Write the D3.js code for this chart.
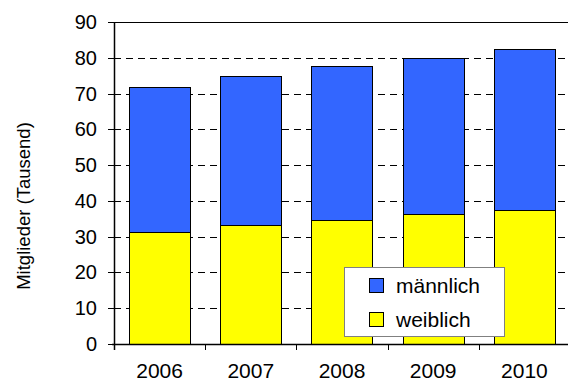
<!DOCTYPE html>
<html>
<head>
<meta charset="utf-8">
<script src="https://cdn.jsdelivr.net/npm/d3@7"></script>
<style>
  body { margin: 0; background: #fff; }
  text { font-family: "Liberation Sans", Arial, sans-serif; fill: #000; }
</style>
</head>
<body>
<div id="chart"></div>
<script>
// data
var years = ["2006", "2007", "2008", "2009", "2010"];
var weiblich = [31.4, 33.2, 34.6, 36.2, 37.4];
var maennlich = [40.5, 41.6, 43.0, 43.8, 45.1];
var yTicks = [0, 10, 20, 30, 40, 50, 60, 70, 80, 90];
var seriesNames = ["männlich", "weiblich"];
var seriesColors = ["#3366ff", "#ffff00"];

const w = 568, h = 381;
// plot area (right edge runs past the window, as in the reference)
var pLeft = 114, pTop = 22, pRight = 570, pBottom = 344;

var svg = d3.select("#chart").append("svg")
    .attr("width", w)
    .attr("height", h);

var x = d3.scaleBand()
    .domain(years)
    .range([pLeft, pRight])
    .paddingInner(0.33)
    .paddingOuter(0.165);

// band boundaries for the category ticks
var step = (pRight - pLeft) / years.length;

var y = d3.scaleLinear()
    .domain([0, 90])
    .range([pBottom, pTop]);

// dashed grid lines
svg.append("g")
    .selectAll("line")
    .data(yTicks.filter(function(d) { return d > 0 && d < 90; }))
    .enter().append("line")
    .attr("x1", pLeft)
    .attr("x2", pRight)
    .attr("y1", function(d) { return Math.round(y(d)) + 0.5; })
    .attr("y2", function(d) { return Math.round(y(d)) + 0.5; })
    .attr("stroke", "#000")
    .attr("stroke-dasharray", "7,5");

// top border of plot area
svg.append("line")
    .attr("x1", pLeft).attr("x2", pRight)
    .attr("y1", Math.round(y(90)) + 0.5).attr("y2", Math.round(y(90)) + 0.5)
    .attr("stroke", "#000");

// stacked data
var rows = years.map(function(yr, i) {
    return { year: yr, weiblich: weiblich[i], maennlich: maennlich[i] };
});
var stack = d3.stack().keys(["weiblich", "maennlich"]);
var layers = stack(rows);
var fills = { weiblich: seriesColors[1], maennlich: seriesColors[0] };

svg.append("g")
    .selectAll("g")
    .data(layers)
    .enter().append("g")
    .attr("fill", function(d) { return fills[d.key]; })
    .selectAll("rect")
    .data(function(d) { return d; })
    .enter().append("rect")
    .attr("x", function(d) { return Math.round(x(d.data.year)) + 0.5; })
    .attr("y", function(d) { return Math.round(y(d[1])) + 0.5; })
    .attr("width", Math.round(x.bandwidth()))
    .attr("height", function(d) { return Math.round(y(d[0])) - Math.round(y(d[1])); })
    .attr("stroke", "#000")
    .attr("stroke-width", 1);

// y axis
var yAxis = svg.append("g");
yAxis.append("line")
    .attr("x1", pLeft + 0.5).attr("x2", pLeft + 0.5)
    .attr("y1", pTop).attr("y2", pBottom + 6)
    .attr("stroke", "#000").attr("stroke-width", 1.5);
yAxis.selectAll("line.tick")
    .data(yTicks)
    .enter().append("line")
    .attr("class", "tick")
    .attr("x1", pLeft - 6).attr("x2", pLeft)
    .attr("y1", function(d) { return Math.round(y(d)) + 0.5; })
    .attr("y2", function(d) { return Math.round(y(d)) + 0.5; })
    .attr("stroke", "#000");
yAxis.selectAll("text")
    .data(yTicks)
    .enter().append("text")
    .attr("x", 97)
    .attr("y", function(d) { return y(d) + 7; })
    .attr("text-anchor", "end")
    .style("font-size", "20px")
    .text(function(d) { return d; });

// x axis
var xAxis = svg.append("g");
xAxis.append("line")
    .attr("x1", pLeft - 2).attr("x2", pRight)
    .attr("y1", pBottom + 0.5).attr("y2", pBottom + 0.5)
    .attr("stroke", "#000").attr("stroke-width", 1.5);
xAxis.selectAll("line.tick")
    .data(d3.range(years.length + 1))
    .enter().append("line")
    .attr("class", "tick")
    .attr("x1", function(i) { return Math.round(pLeft + i * step) + 0.5; })
    .attr("x2", function(i) { return Math.round(pLeft + i * step) + 0.5; })
    .attr("y1", pBottom).attr("y2", pBottom + 6)
    .attr("stroke", "#000");
xAxis.selectAll("text")
    .data(years)
    .enter().append("text")
    .attr("x", function(d) { return x(d) + x.bandwidth() / 2; })
    .attr("y", 378)
    .attr("text-anchor", "middle")
    .style("font-size", "21px")
    .text(function(d) { return d; });

// axis title
svg.append("text")
    .attr("transform", "translate(30,206) rotate(-90)")
    .attr("text-anchor", "middle")
    .style("font-size", "18.5px")
    .text("Mitglieder (Tausend)");

// legend
var legend = svg.append("g");
legend.append("rect")
    .attr("x", 344.5).attr("y", 267.5)
    .attr("width", 160).attr("height", 69)
    .attr("fill", "#fff")
    .attr("stroke", "#808080");
var items = legend.selectAll("g.item")
    .data(seriesNames)
    .enter().append("g")
    .attr("class", "item")
    .attr("transform", function(d, i) { return "translate(0," + (i * 34) + ")"; });
items.append("rect")
    .attr("x", 369.5).attr("y", 278.5)
    .attr("width", 14).attr("height", 14)
    .attr("fill", function(d, i) { return seriesColors[i]; })
    .attr("stroke", "#000");
items.append("text")
    .attr("x", 396)
    .attr("y", 292.5)
    .style("font-size", "21px")
    .text(function(d) { return d; });
</script>
</body>
</html>
